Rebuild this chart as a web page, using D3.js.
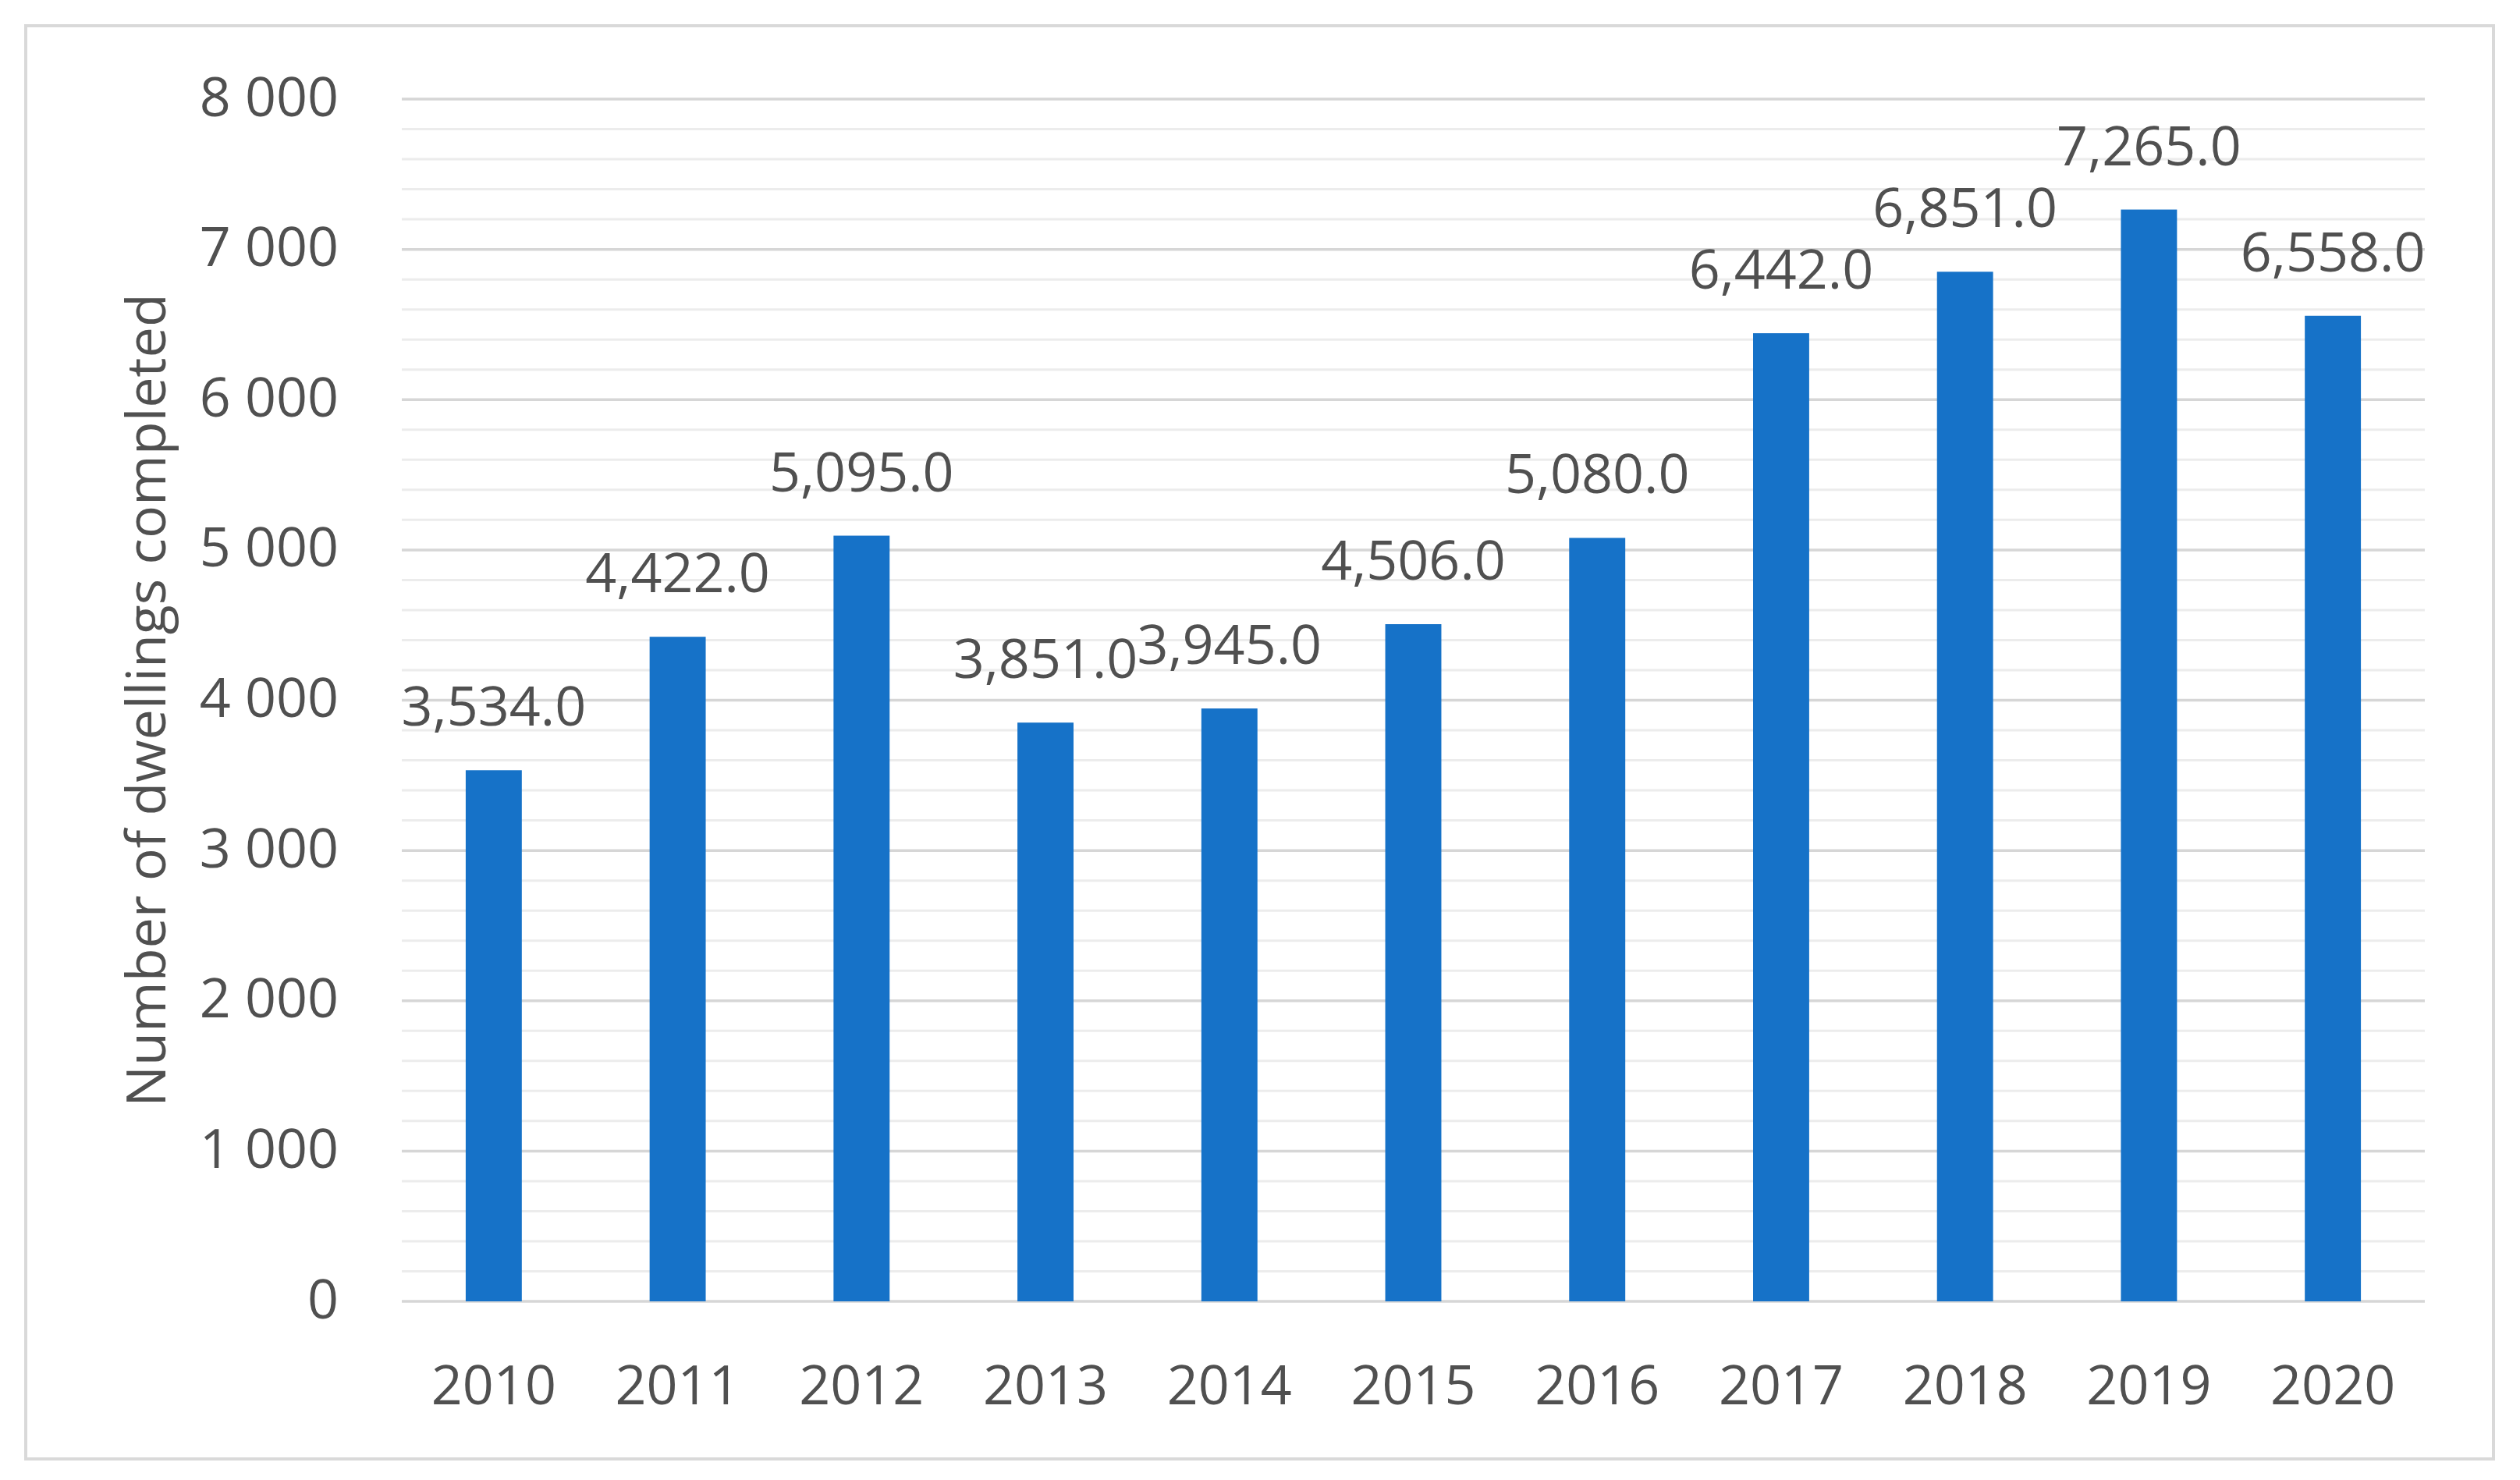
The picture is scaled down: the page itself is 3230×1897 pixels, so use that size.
<!DOCTYPE html>
<html>
<head>
<meta charset="utf-8">
<script src="https://cdn.jsdelivr.net/npm/d3@7/dist/d3.min.js"></script>
<style>
  html, body { margin: 0; padding: 0; background: #ffffff; }
  svg { display: block; }
  text { font-family: "Open Sans", "Noto Sans", sans-serif; fill: #505050; }
</style>
</head>
<body>
<svg id="chart" width="3230" height="1897"></svg>
<script>
// ---- data ----
const years = ["2010","2011","2012","2013","2014","2015","2016","2017","2018","2019","2020"];
const dwellings = [3534, 4422, 5095, 3851, 3945, 4506, 5080, 6442, 6851, 7265, 6558];
const yTicks = [0, 1000, 2000, 3000, 4000, 5000, 6000, 7000, 8000];
const yMinorTicks = d3.range(0, 8001, 200);
const yTitle = "Number of dwellings completed";

// ---- layout ----
const W = 3230, H = 1897;
const plot = { left: 515, right: 3108, top: 127, bottom: 1668 };
const svg = d3.select("#chart");

// outer frame
svg.append("rect")
  .attr("x", 33).attr("y", 33)
  .attr("width", 3196 - 33).attr("height", 1870 - 33)
  .attr("fill", "#ffffff")
  .attr("stroke", "#d9d9d9")
  .attr("stroke-width", 4);

const x = d3.scaleBand()
  .domain(years)
  .range([plot.left, plot.right])
  .paddingInner(0.695)
  .paddingOuter(0.3475);

const y = d3.scaleLinear()
  .domain([0, 8000])
  .range([plot.bottom, plot.top]);

// minor gridlines
svg.append("g")
  .selectAll("line")
  .data(yMinorTicks.filter(v => v % 1000 !== 0))
  .join("line")
  .attr("x1", plot.left).attr("x2", plot.right)
  .attr("y1", d => y(d)).attr("y2", d => y(d))
  .attr("stroke", "#ececec")
  .attr("stroke-width", 3);

// major gridlines
svg.append("g")
  .selectAll("line")
  .data(yTicks)
  .join("line")
  .attr("x1", plot.left).attr("x2", plot.right)
  .attr("y1", d => y(d)).attr("y2", d => y(d))
  .attr("stroke", "#d6d6d6")
  .attr("stroke-width", 3.5);

// y axis labels
const fmtY = d => d3.format(",")(d).replace(/,/g, " ");
const yAxis = d3.axisLeft(y)
  .tickValues(yTicks)
  .tickFormat(fmtY)
  .tickSize(0)
  .tickPadding(81);
const gy = svg.append("g")
  .attr("transform", `translate(${plot.left},0)`)
  .call(yAxis);
gy.select(".domain").remove();
gy.selectAll("text")
  .attr("font-size", 70)
  .attr("font-family", '"Open Sans", "Noto Sans", sans-serif')
  .attr("fill", "#505050")
  .attr("dy", "0.3em");

// x axis labels
const xAxis = d3.axisBottom(x).tickSize(0).tickPadding(0);
const gx = svg.append("g")
  .attr("transform", `translate(0,${plot.bottom})`)
  .call(xAxis);
gx.select(".domain").remove();
gx.selectAll("text")
  .attr("font-size", 70)
  .attr("font-family", '"Open Sans", "Noto Sans", sans-serif')
  .attr("fill", "#505050")
  .attr("y", 132)
  .attr("dy", 0);

// bars
svg.append("g")
  .selectAll("rect")
  .data(years.map((yr, i) => ({ yr, v: dwellings[i] })))
  .join("rect")
  .attr("x", d => x(d.yr))
  .attr("width", x.bandwidth())
  .attr("y", d => y(d.v))
  .attr("height", d => y(0) - y(d.v))
  .attr("fill", "#1672C8");

// data labels
const fmtLabel = d3.format(",.1f");
svg.append("g")
  .selectAll("text")
  .data(years.map((yr, i) => ({ yr, v: dwellings[i] })))
  .join("text")
  .attr("x", d => x(d.yr) + x.bandwidth() / 2)
  .attr("y", d => y(d.v) - 57)
  .attr("text-anchor", "middle")
  .attr("font-size", 70)
  .text(d => fmtLabel(d.v));

// y axis title
svg.append("text")
  .attr("transform", `translate(212,${(plot.top + plot.bottom) / 2}) rotate(-90)`)
  .attr("text-anchor", "middle")
  .attr("font-size", 70)
  .text(yTitle);
</script>
</body>
</html>
